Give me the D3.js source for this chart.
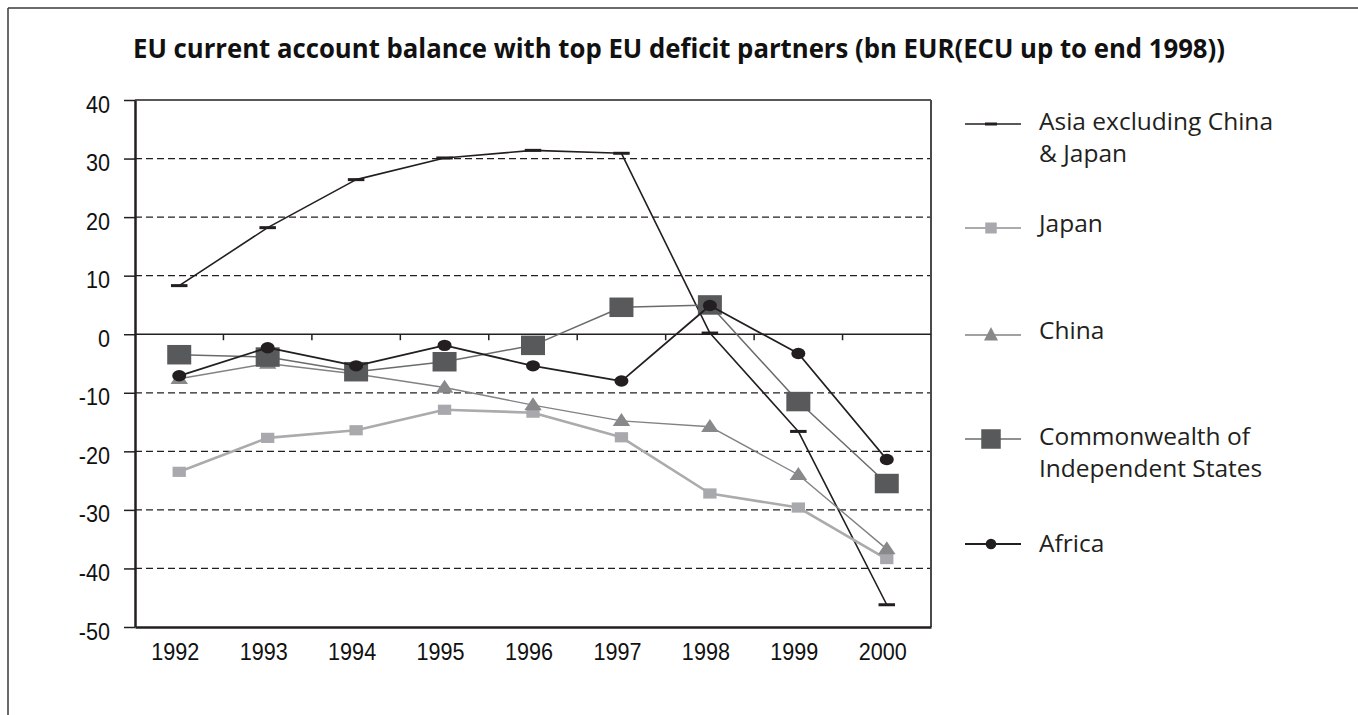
<!DOCTYPE html>
<html><head><meta charset="utf-8">
<script src="https://cdn.jsdelivr.net/npm/d3@7"></script>
<style>html,body{margin:0;padding:0;background:#fff;}svg{display:block;}</style>
</head><body>
<svg id="chart" width="1358" height="715"></svg>
<script>
const title = "EU current account balance with top EU deficit partners (bn EUR(ECU up to end 1998))";
const years = ["1992","1993","1994","1995","1996","1997","1998","1999","2000"];
const yTicks = [40,30,20,10,0,-10,-20,-30,-40,-50];
const asia   = [8.3, 18.2, 26.4, 30.1, 31.4, 30.9, 0.2, -16.6, -46.2];
const japan  = [-23.5, -17.7, -16.4, -12.9, -13.4, -17.6, -27.2, -29.6, -38.4];
const china  = [-7.6, -5.0, -6.8, -9.1, -12.1, -14.8, -15.8, -24.0, -36.7];
const cis    = [-3.5, -3.9, -6.4, -4.7, -1.9, 4.6, 5.0, -11.5, -25.5];
const africa = [-7.1, -2.3, -5.4, -1.9, -5.4, -8.0, 4.9, -3.3, -21.4];
const seriesNames = ["Asia excluding China\n& Japan","Japan","China","Commonwealth of\nIndependent States","Africa"];

const svg = d3.select("#chart");
const L = 135, R = 931, T = 100, B = 627;
const x = d3.scaleBand().domain(years).range([L, R]).padding(0);
const y = d3.scaleLinear().domain([-50, 40]).range([B, T]);
const cx = d => x(d) + x.bandwidth() / 2;

// outer frame (top + left visible)
svg.append("line").attr("x1",8).attr("x2",1358).attr("y1",8).attr("y2",8).attr("stroke","#3a3a3a").attr("stroke-width",1.5);
svg.append("line").attr("x1",8).attr("x2",8).attr("y1",8).attr("y2",715).attr("stroke","#3a3a3a").attr("stroke-width",1.5);

// title
svg.append("text").attr("x",679).attr("y",57.5).attr("text-anchor","middle")
  .attr("font-family","'Open Sans', sans-serif").attr("font-weight","bold").attr("font-size",26)
  .attr("fill","#111").attr("textLength",1092).attr("lengthAdjust","spacingAndGlyphs").text(title);

// gridlines
svg.append("g").selectAll("line").data(yTicks.filter(v => v !== 40 && v !== 0 && v !== -50)).join("line")
  .attr("x1", L).attr("x2", R).attr("y1", d => y(d)).attr("y2", d => y(d))
  .attr("stroke","#231f20").attr("stroke-width",1.2).attr("stroke-dasharray","7,4");

// plot border top & right
svg.append("line").attr("x1",L).attr("x2",R).attr("y1",y(40)).attr("y2",y(40)).attr("stroke","#231f20").attr("stroke-width",1.5);
svg.append("line").attr("x1",R).attr("x2",R).attr("y1",T).attr("y2",B).attr("stroke","#4a4a4a").attr("stroke-width",2);

// y axis
const yAxis = svg.append("g").attr("transform",`translate(${L},0)`)
  .call(d3.axisLeft(y).tickValues(yTicks).tickFormat(d => String(d)).tickSize(11).tickSizeOuter(0).tickPadding(14));
yAxis.select(".domain").attr("stroke","#231f20").attr("stroke-width",2.5);
yAxis.selectAll(".tick line").attr("stroke","#231f20").attr("stroke-width",1.5);
yAxis.selectAll(".tick text").each(function(){
  const t = d3.select(this);
  const xx = +t.attr("x");
  t.attr("x",0).attr("dy",null).attr("y",null)
   .attr("transform",`translate(${xx},12) scale(0.92,1)`);
}).attr("font-family","'Liberation Sans', Arial, sans-serif").attr("font-size",23.5).attr("fill","#111");

// x axis (labels at bottom)
const xAxis = svg.append("g").attr("transform",`translate(0,${B})`)
  .call(d3.axisBottom(x).tickSize(0).tickSizeOuter(0).tickPadding(0));
xAxis.select(".domain").attr("stroke","#231f20").attr("stroke-width",2.5);
xAxis.selectAll(".tick text").each(function(){
  const t = d3.select(this);
  t.attr("y",null).attr("dy",null).attr("transform","translate(-4,33) scale(0.92,1)");
}).attr("font-family","'Liberation Sans', Arial, sans-serif").attr("font-size",23.5).attr("fill","#111");

// zero line with ticks at category boundaries
svg.append("line").attr("x1",L).attr("x2",R).attr("y1",y(0)).attr("y2",y(0)).attr("stroke","#231f20").attr("stroke-width",1.5);
svg.append("g").selectAll("line").data(years.slice(1)).join("line")
  .attr("x1", d => x(d)).attr("x2", d => x(d)).attr("y1", y(0)).attr("y2", y(0) + 6)
  .attr("stroke","#231f20").attr("stroke-width",1.5);

// series definitions
const series = [
  {name: seriesNames[0], values: asia,   line:"#231f20", lw:1.6, fill:"#231f20", shape:"dash"},
  {name: seriesNames[1], values: japan,  line:"#ababad", lw:2.6, fill:"#a7a9ac", shape:"sq"},
  {name: seriesNames[2], values: china,  line:"#828284", lw:1.4, fill:"#88898b", shape:"tri"},
  {name: seriesNames[3], values: cis,    line:"#6a6b6d", lw:1.5, fill:"#58595b", shape:"bigsq"},
  {name: seriesNames[4], values: africa, line:"#231f20", lw:1.8, fill:"#231f20", shape:"circ"}
];

function drawMarker(g, shape, px, py, fill, legend) {
  if (shape === "dash") {
    const w = legend ? 12 : 16.5, h = 3;
    g.append("rect").attr("x", px - w/2).attr("y", py - h/2).attr("width", w).attr("height", h).attr("fill", fill);
  } else if (shape === "sq") {
    const w = legend ? 11.5 : 13.3, h = legend ? 11 : 10.2;
    g.append("rect").attr("x", px - w/2).attr("y", py - h/2).attr("width", w).attr("height", h).attr("fill", fill);
  } else if (shape === "bigsq") {
    const w = legend ? 19.5 : 24, h = 19.5;
    g.append("rect").attr("x", px - w/2).attr("y", py - h/2).attr("width", w).attr("height", h).attr("fill", fill);
  } else if (shape === "tri") {
    const w = legend ? 14 : 17.5, h = legend ? 13.5 : 13;
    g.append("path").attr("d", `M${px},${py - h*0.6}L${px + w/2},${py + h*0.4}L${px - w/2},${py + h*0.4}Z`).attr("fill", fill);
  } else if (shape === "circ") {
    const rx = legend ? 5.3 : 7, ry = legend ? 5.3 : 5.7;
    g.append("ellipse").attr("cx", px).attr("cy", py).attr("rx", rx).attr("ry", ry).attr("fill", fill);
  }
}

const lineGen = d3.line().x((d,i) => cx(years[i])).y(d => y(d));
const plot = svg.append("g");
series.forEach(s => {
  const g = plot.append("g");
  g.append("path").attr("d", lineGen(s.values)).attr("fill","none").attr("stroke", s.line).attr("stroke-width", s.lw).attr("stroke-linejoin","round");
  s.values.forEach((v,i) => drawMarker(g, s.shape, cx(years[i]), y(v), s.fill, false));
});

// legend
const legendRows = [
  {lineY:124, base:[130,162]},
  {lineY:228, base:[232]},
  {lineY:335, base:[339]},
  {lineY:439, base:[445,477]},
  {lineY:544, base:[552]}
];
const lg = svg.append("g");
series.forEach((s, i) => {
  const r = legendRows[i];
  const g = lg.append("g");
  g.append("line").attr("x1",965).attr("x2",1021).attr("y1",r.lineY).attr("y2",r.lineY).attr("stroke",s.line).attr("stroke-width",Math.min(s.lw,2));
  drawMarker(g, s.shape, 991, r.lineY, s.fill, true);
  s.name.split("\n").forEach((t, j) => {
    g.append("text").attr("x",1039).attr("y",r.base[j])
      .attr("font-family","'Open Sans', sans-serif").attr("font-size",24.5).attr("fill","#231f20").text(t);
  });
});
</script>
</body></html>
